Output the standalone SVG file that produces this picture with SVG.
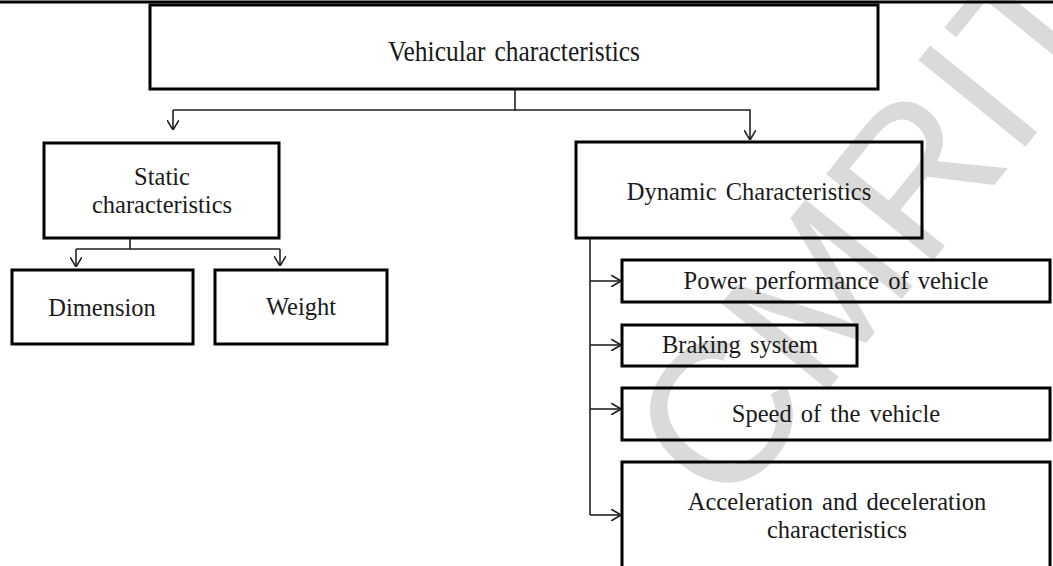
<svg xmlns="http://www.w3.org/2000/svg" width="1053" height="566" viewBox="0 0 1053 566">
  <defs>
    <style>
      .box { fill: none; stroke: #000000; stroke-width: 3; }
      .lbl { font-family: "Liberation Serif", "Times New Roman", serif; font-size: 24.5px; fill: #1a1a1a; text-anchor: middle; word-spacing: 3px; }
      .con { fill: none; stroke: #222222; stroke-width: 1.6; }
      .wm { font-family: "Liberation Sans", Arial, sans-serif; font-size: 200px; fill: #dadada; }
    </style>
    <marker id="arr" viewBox="0 0 10 12" refX="10" refY="6" markerWidth="10" markerHeight="12" markerUnits="userSpaceOnUse" orient="auto">
      <path d="M0,0 L10,6 L0,12" fill="none" stroke="#222222" stroke-width="1.6"/>
    </marker>
  </defs>

  <rect width="1053" height="566" fill="#ffffff"/>

  <g id="watermark">
    <text class="wm" transform="translate(727,515) rotate(-51)">CMRIT</text>
  </g>

  <line x1="0" y1="2" x2="1053" y2="2" stroke="#000000" stroke-width="3"/>

  <g id="connectors">
    <path class="con" d="M515,89 V111 M173,110 H750 V111"/>
    <path class="con" d="M173,110 V130" marker-end="url(#arr)"/>
    <path class="con" d="M750,111 V140" marker-end="url(#arr)"/>
    <path class="con" d="M130,238 V249 M76,249 H280"/>
    <path class="con" d="M76,249 V267" marker-end="url(#arr)"/>
    <path class="con" d="M280,249 V266" marker-end="url(#arr)"/>
    <path class="con" d="M590,238 V515"/>
    <path class="con" d="M590,281 H621" marker-end="url(#arr)"/>
    <path class="con" d="M590,345 H621" marker-end="url(#arr)"/>
    <path class="con" d="M590,409 H621" marker-end="url(#arr)"/>
    <path class="con" d="M590,515 H621" marker-end="url(#arr)"/>
  </g>

  <g id="vehicular">
    <rect class="box" x="150" y="5" width="728" height="84"/>
    <text class="lbl" x="514" y="61" style="font-size:30px" textLength="252" lengthAdjust="spacingAndGlyphs">Vehicular characteristics</text>
  </g>

  <g id="static">
    <rect class="box" x="44" y="143" width="235" height="95"/>
    <text class="lbl" x="162" y="185">Static</text>
    <text class="lbl" x="162" y="213">characteristics</text>
  </g>

  <g id="dimension">
    <rect class="box" x="12" y="270" width="181" height="74"/>
    <text class="lbl" x="102" y="316">Dimension</text>
  </g>

  <g id="weight">
    <rect class="box" x="215" y="270" width="172" height="74"/>
    <text class="lbl" x="301" y="315">Weight</text>
  </g>

  <g id="dynamic">
    <rect class="box" x="576" y="142" width="346" height="96"/>
    <text class="lbl" x="749" y="200">Dynamic Characteristics</text>
  </g>

  <g id="power">
    <rect class="box" x="622" y="260" width="428" height="42"/>
    <text class="lbl" x="836" y="289">Power performance of vehicle</text>
  </g>

  <g id="braking">
    <rect class="box" x="622" y="325" width="235" height="41"/>
    <text class="lbl" x="740" y="353">Braking system</text>
  </g>

  <g id="speed">
    <rect class="box" x="622" y="388" width="428" height="52"/>
    <text class="lbl" x="836" y="422">Speed of the vehicle</text>
  </g>

  <g id="acceleration">
    <rect class="box" x="622" y="462" width="428" height="130"/>
    <text class="lbl" x="837" y="510">Acceleration and deceleration</text>
    <text class="lbl" x="837" y="538">characteristics</text>
  </g>
</svg>
